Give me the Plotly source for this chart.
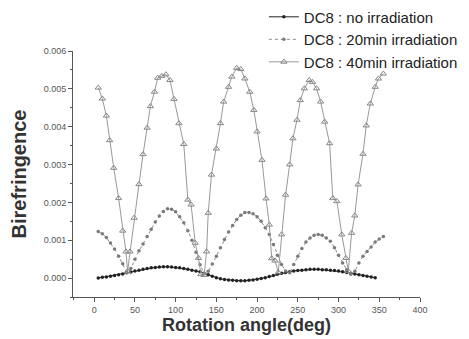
import plotly.graph_objects as go

# ---- data ----
angle_no = list(range(5, 350, 5))
biref_no = [0.00000, 0.00002, 0.00003, 0.00005, 0.00007, 0.00009, 0.00011, 0.00014, 0.00016, 0.00019,
            0.00021, 0.00023, 0.00025, 0.00027, 0.00028, 0.00029, 0.00030, 0.00030, 0.00029, 0.00028,
            0.00027, 0.00025, 0.00023, 0.00021, 0.00019, 0.00017, 0.00013, 0.00009, 0.00005, 0.00001,
            -0.00002, -0.00004, -0.00005, -0.00006, -0.00007, -0.00007, -0.00007, -0.00006, -0.00005, -0.00003,
            -0.00001, 0.00001, 0.00004, 0.00007, 0.00010, 0.00013, 0.00015, 0.00017, 0.00019, 0.00020,
            0.00021, 0.00022, 0.00023, 0.00023, 0.00023, 0.00022, 0.00022, 0.00021, 0.00020, 0.00019,
            0.00017, 0.00015, 0.00013, 0.00011, 0.00009, 0.00007, 0.00005, 0.00003, 0.00001]

angle_20 = list(range(5, 360, 5))
biref_20 = [0.00123, 0.00117, 0.00107, 0.00093, 0.00077, 0.00058, 0.00038, 0.00015, 0.00025, 0.00050,
            0.00072, 0.00090, 0.00110, 0.00129, 0.00148, 0.00164, 0.00176, 0.00183, 0.00182, 0.00175,
            0.00162, 0.00146, 0.00125, 0.00100, 0.00068, 0.00035, 0.00012, 0.00018, 0.00037, 0.00058,
            0.00080, 0.00102, 0.00122, 0.00139, 0.00155, 0.00166, 0.00173, 0.00173, 0.00170, 0.00162,
            0.00150, 0.00133, 0.00115, 0.00089, 0.00060, 0.00036, 0.00019, 0.00014, 0.00036, 0.00058,
            0.00078, 0.00095, 0.00106, 0.00113, 0.00115, 0.00113, 0.00106, 0.00097, 0.00080, 0.00060,
            0.00040, 0.00022, 0.00010, 0.00018, 0.00040, 0.00058, 0.00070, 0.00082, 0.00095, 0.00103,
            0.00110]

angle_40 = [5, 10, 15, 19, 24, 30, 35, 39, 41, 44, 49, 55, 60, 65, 69, 74, 78, 83, 88, 93,
            98, 104, 110, 115, 119, 124, 128, 131, 135, 138, 140, 144, 150, 155, 159, 165, 169, 175, 180, 185,
            191, 196, 200, 206, 211, 215, 218, 222, 226, 230, 235, 240, 244, 249, 253, 258, 264, 268, 273, 278,
            283, 289, 293, 298, 304, 309, 312, 316, 320, 324, 330, 334, 339, 345, 349, 355]
biref_40 = [0.00503, 0.00474, 0.00429, 0.00364, 0.00291, 0.00211, 0.00125, 0.00070, 0.00018, 0.00070,
            0.00159, 0.00248, 0.00327, 0.00397, 0.00454, 0.00492, 0.00529, 0.00534, 0.00538, 0.00523,
            0.00473, 0.00409, 0.00354, 0.00207, 0.00194, 0.00093, 0.00053, 0.00010, 0.00008, 0.00070,
            0.00172, 0.00273, 0.00342, 0.00409, 0.00466, 0.00505, 0.00532, 0.00555, 0.00552, 0.00527,
            0.00492, 0.00444, 0.00387, 0.00312, 0.00210, 0.00141, 0.00052, 0.00046, 0.00015, 0.00115,
            0.00220, 0.00300, 0.00369, 0.00418, 0.00470, 0.00501, 0.00523, 0.00518, 0.00501, 0.00466,
            0.00413, 0.00356, 0.00211, 0.00203, 0.00115, 0.00053, 0.00018, 0.00119, 0.00165, 0.00247,
            0.00328, 0.00403, 0.00461, 0.00505, 0.00527, 0.00540]

x_ticks = [0, 50, 100, 150, 200, 250, 300, 350, 400]
y_ticks = [0.000, 0.001, 0.002, 0.003, 0.004, 0.005, 0.006]

FONT = "Liberation Sans, Arial, sans-serif"

fig = go.Figure()
fig.add_trace(go.Scatter(
    x=angle_no, y=biref_no, mode="lines+markers", name="DC8 : no irradiation",
    line=dict(color="#222222", width=1),
    marker=dict(symbol="circle", size=3.5, color="#222222")))
fig.add_trace(go.Scatter(
    x=angle_20, y=biref_20, mode="lines+markers", name="DC8 : 20min irradiation",
    line=dict(color="#8a8a8a", width=1, dash="dot"),
    marker=dict(symbol="circle", size=3.5, color="#7a7a7a")))
fig.add_trace(go.Scatter(
    x=angle_40, y=biref_40, mode="lines+markers", name="DC8 : 40min irradiation",
    line=dict(color="#999999", width=1),
    marker=dict(symbol="triangle-up-open", size=5.5, color="#888888", line=dict(width=1))))

# page has an 8px body margin; margins below compensate so the plot lands where the reference has it
fig.update_layout(
    width=469, height=339,
    margin=dict(l=65, r=57, t=43, b=50, autoexpand=False),
    paper_bgcolor="white", plot_bgcolor="white",
    font=dict(family=FONT, color="#333333"),
    showlegend=True,
    legend=dict(x=0.55, y=1.205, xanchor="left", yanchor="top",
                font=dict(family=FONT, size=15, color="#222222"),
                bgcolor="rgba(0,0,0,0)", tracegroupgap=0, itemwidth=30),
    xaxis=dict(range=[-26, 400], tickvals=x_ticks, ticktext=[str(v) for v in x_ticks],
               showgrid=False, zeroline=False, showline=True, linecolor="#555555", linewidth=1,
               ticks="outside", ticklen=4, tickcolor="#555555",
               minor=dict(ticks="outside", ticklen=2, dtick=25, tickcolor="#555555"),
               tickfont=dict(family=FONT, size=9, color="#555555"),
               title=dict(text="<b>Rotation angle(deg)</b>", font=dict(family=FONT, size=18, color="#333333"),
                          standoff=4)),
    yaxis=dict(range=[-0.0005, 0.006], tickvals=y_ticks, ticktext=["%.3f" % v for v in y_ticks],
               showgrid=False, zeroline=False, showline=True, linecolor="#555555", linewidth=1,
               ticks="outside", ticklen=4, tickcolor="#555555",
               minor=dict(ticks="outside", ticklen=2, dtick=0.0005, tickcolor="#555555"),
               tickfont=dict(family=FONT, size=9, color="#555555"),
               title=dict(text="<b>Birefringence</b>", font=dict(family=FONT, size=20, color="#333333"),
                          standoff=20)),
)

fig.write_html("out.html")
